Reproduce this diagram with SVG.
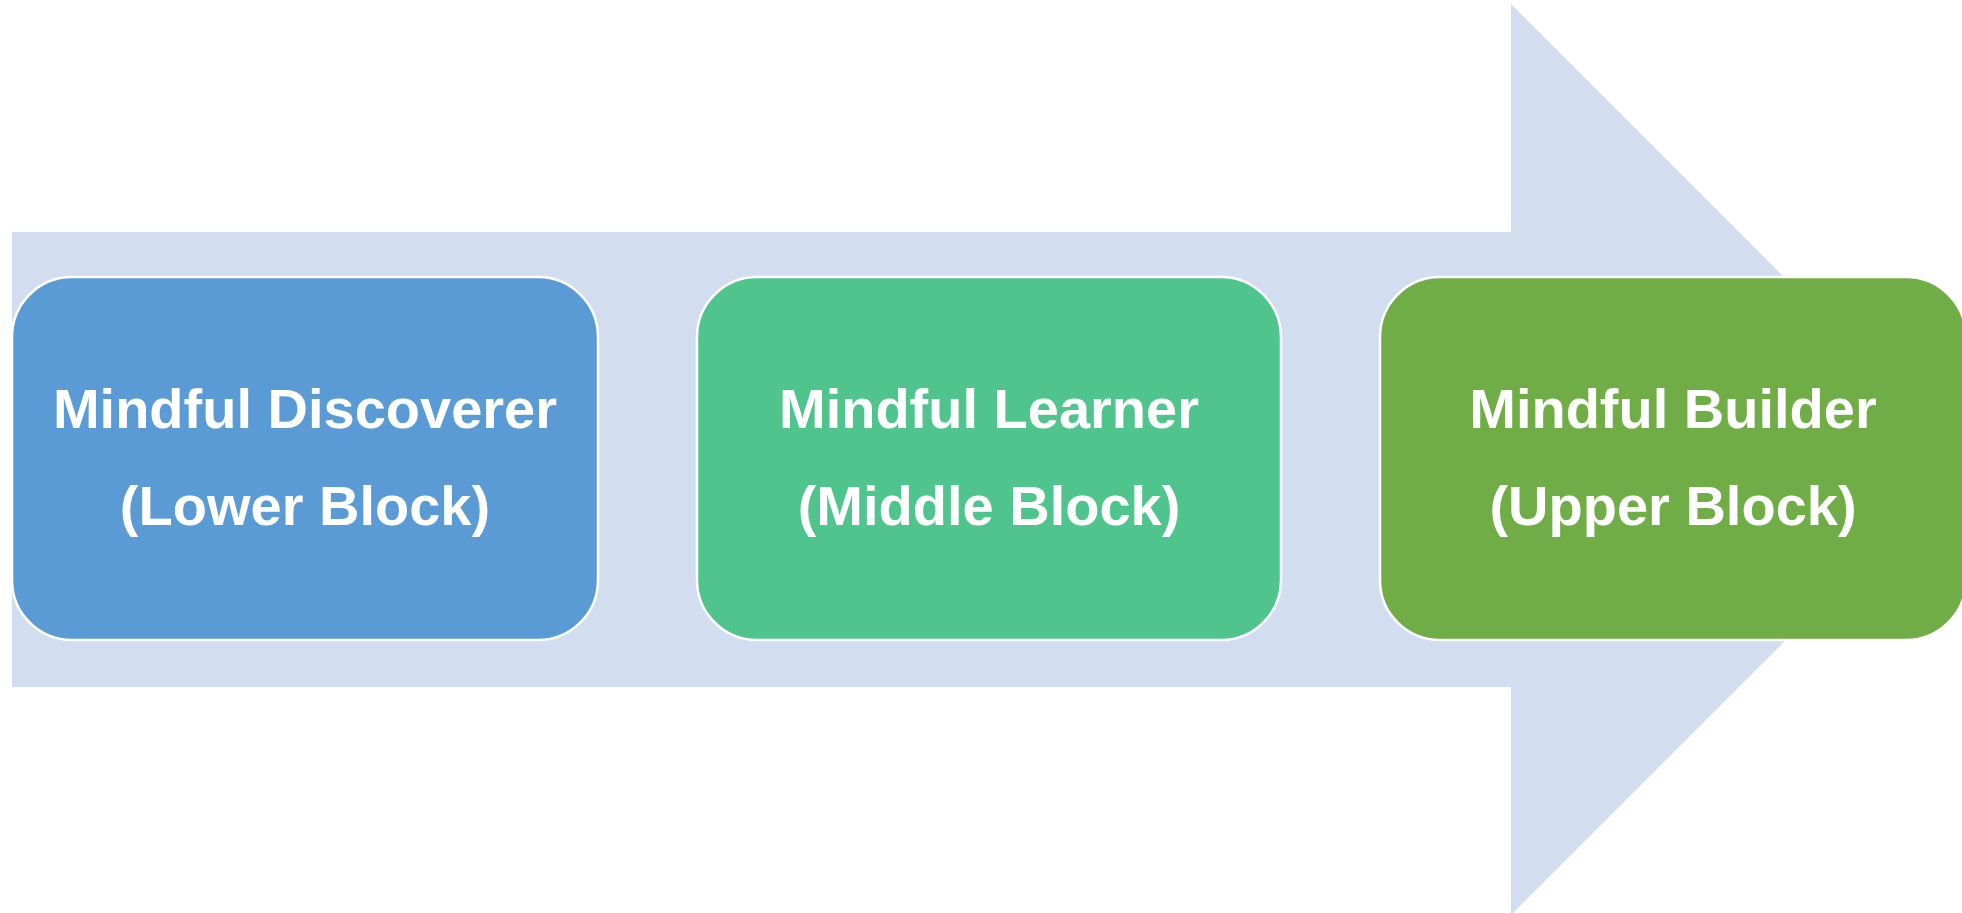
<svg xmlns="http://www.w3.org/2000/svg" width="1962" height="913" viewBox="0 0 1962 913">
<style>
.lbl{font-family:"Liberation Sans",Arial,sans-serif;font-weight:bold;font-size:56px;fill:#FFFFFF;text-anchor:middle}
.box{stroke:#FFFFFF;stroke-width:2.5}
</style>
<rect width="1962" height="913" fill="#FFFFFF"/>
<g id="connectors">
<polygon id="arrow" points="12,232 1511,232 1511,4 1966.5,459.5 1511,915 1511,687 12,687" fill="#D2DEEF"/>
</g>
<g id="node1">
<rect class="box" x="12" y="277" width="586" height="363" rx="60" ry="60" fill="#5B9BD5"/>
<text class="lbl" x="305" y="428">Mindful Discoverer</text>
<text class="lbl" x="305" y="525">(Lower Block)</text>
</g>
<g id="node2">
<rect class="box" x="697" y="277" width="584" height="363" rx="60" ry="60" fill="#4FC48D"/>
<text class="lbl" x="989" y="428">Mindful Learner</text>
<text class="lbl" x="989" y="525">(Middle Block)</text>
</g>
<g id="node3">
<rect class="box" x="1380" y="277" width="586" height="363" rx="60" ry="60" fill="#70AD47"/>
<text class="lbl" x="1673" y="428">Mindful Builder</text>
<text class="lbl" x="1673" y="525">(Upper Block)</text>
</g>
</svg>
